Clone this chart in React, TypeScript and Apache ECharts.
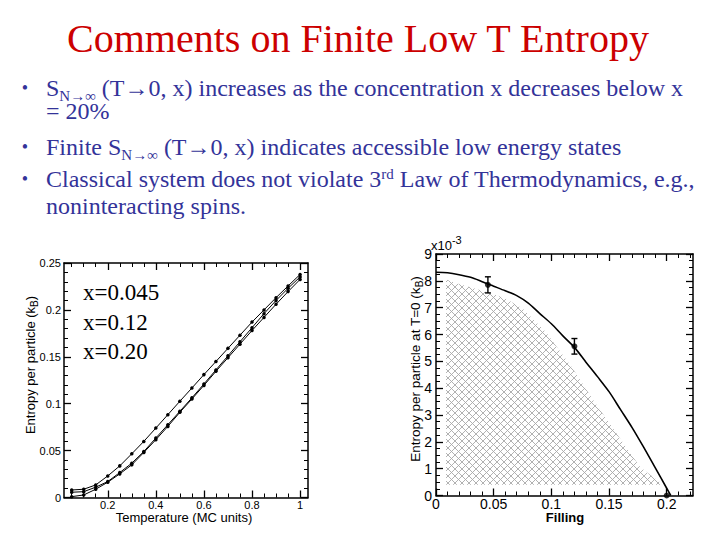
import React, { useEffect, useRef } from 'react';
import * as echarts from 'echarts';

// ---------- Left panel: entropy vs temperature ----------
const TEMPS = [0.05, 0.1, 0.15, 0.2, 0.25, 0.3, 0.35, 0.4, 0.45, 0.5, 0.55, 0.6, 0.65, 0.7, 0.75, 0.8, 0.85, 0.9, 0.95, 1.0];
const S_X045 = [0.0080, 0.0088, 0.0134, 0.0230, 0.0337, 0.0466, 0.0598, 0.0740, 0.0883, 0.1026, 0.1167, 0.1310, 0.1450, 0.1590, 0.1730, 0.1870, 0.2000, 0.2130, 0.2255, 0.2378];
const S_X012 = [0.0056, 0.0062, 0.0110, 0.0170, 0.0266, 0.0366, 0.0490, 0.0634, 0.0776, 0.0919, 0.1062, 0.1210, 0.1360, 0.1510, 0.1660, 0.1810, 0.1960, 0.2100, 0.2230, 0.2352];
const S_X020 = [0.0009, 0.0027, 0.0088, 0.0163, 0.0252, 0.0348, 0.0480, 0.0616, 0.0758, 0.0908, 0.1050, 0.1195, 0.1345, 0.1490, 0.1635, 0.1780, 0.1920, 0.2060, 0.2195, 0.2325];
const LEFT_SERIES_NAMES = ['x=0.045', 'x=0.12', 'x=0.20'];
const LEFT_X_TICKS = [0.2, 0.4, 0.6, 0.8, 1];
const LEFT_Y_TICKS = [0, 0.05, 0.1, 0.15, 0.2, 0.25];

// ---------- Right panel: T=0 entropy vs filling (values in units of 1e-3) ----------
const FIT_X = [0, 0.01, 0.02, 0.03, 0.04, 0.05, 0.06, 0.07, 0.08, 0.09, 0.1, 0.11, 0.12, 0.13, 0.14, 0.15, 0.16, 0.17, 0.18, 0.19, 0.2, 0.2035];
const FIT_S0 = [8.32, 8.30, 8.23, 8.13, 7.97, 7.80, 7.63, 7.45, 7.17, 6.78, 6.40, 5.95, 5.52, 4.97, 4.43, 3.87, 3.20, 2.53, 1.80, 1.04, 0.27, 0];
const POINT_X = [0.045, 0.12, 0.2];
const POINT_S0 = [7.85, 5.56, 0];
const POINT_ERR = [0.3, 0.29, 0];
const HATCH_X = [0.0087, 0.0087, 0.02, 0.035, 0.05, 0.06, 0.075, 0.095, 0.1176, 0.1364, 0.1567, 0.1769, 0.197];
const HATCH_Y = [0.4, 8.05, 7.88, 7.70, 7.50, 7.35, 6.97, 6.10, 4.79, 3.55, 2.30, 1.06, 0.4];
const RIGHT_X_TICKS = [0, 0.05, 0.1, 0.15, 0.2];
const RIGHT_Y_TICKS = [0, 1, 2, 3, 4, 5, 6, 7, 8, 9];

// ---------- Slide text ----------
const TITLE = 'Comments on Finite Low T Entropy';
const BULLET_LINES = [
  { text: '{m|S}{s|N→∞}{m| (T→0, x) increases as the concentration x decreases below x}', bullet: true },
  { text: '{m|= 20%}', bullet: false },
  { text: '{m|Finite S}{s|N→∞}{m| (T→0, x) indicates accessible low energy states}', bullet: true },
  { text: '{m|Classical system does not violate 3}{p|rd}{m| Law of Thermodynamics, e.g.,}', bullet: true },
  { text: '{m|noninteracting spins.}', bullet: false },
];

const SANS = 'Liberation Sans, Arial, sans-serif';
const SERIF = 'Liberation Serif, Times New Roman, serif';
const NAVY = '#333399';

function steps(a: number, b: number, s: number) {
  const out: number[] = [];
  for (let i = 0; a + i * s <= b + 1e-9; i++) out.push(+(a + i * s).toFixed(4));
  return out;
}

function axisGroup(kind: 'x' | 'y', gridIndex: number, min: number, max: number, major: number[], minor: number[], label: any) {
  const pos = kind === 'x' ? ['bottom', 'top'] : ['left', 'right'];
  const base = { type: 'value', gridIndex, min, max, splitLine: { show: false } };
  const out: any[] = [];
  pos.forEach((p, k) => {
    out.push({
      ...base,
      position: p,
      axisLine: { show: true, onZero: false, lineStyle: { color: '#000', width: 1.5 } },
      axisTick: { show: true, inside: true, length: 7, customValues: major, lineStyle: { color: '#000', width: 1.3 } },
      axisLabel: k === 0 ? { ...label, customValues: major } : { show: false },
    });
    out.push({
      ...base,
      position: p,
      axisLine: { show: false, onZero: false },
      axisTick: { show: true, inside: true, length: 4, customValues: minor, lineStyle: { color: '#000', width: 1 } },
      axisLabel: { show: false },
    });
  });
  return out;
}

function makePattern() {
  const svg = "<svg xmlns='http://www.w3.org/2000/svg' width='7' height='7'><path d='M0 0L7 7M7 0L0 7' stroke='#a8a8a8' stroke-width='0.9' fill='none'/></svg>";
  return {
    image: 'data:image/svg+xml;charset=utf-8,' + encodeURIComponent(svg),
    repeat: 'repeat',
    imageWidth: 7,
    imageHeight: 7,
  };
}

function buildOption() {
  const leftLabel = { show: true, color: '#000', fontFamily: SANS, fontSize: 11, margin: 2, lineHeight: 11 };
  const rightLabel = { show: true, color: '#000', fontFamily: SANS, fontSize: 14, margin: 3, lineHeight: 12 };

  const xAxes = [
    ...axisGroup('x', 0, 0.018, 1.033, LEFT_X_TICKS, steps(0.05, 1.0, 0.05), leftLabel),
    ...axisGroup('x', 1, 0, 0.2228, RIGHT_X_TICKS, steps(0, 0.22, 0.01), { ...rightLabel, margin: 2 }),
  ];
  const yAxes = [
    ...axisGroup('y', 0, 0, 0.25, LEFT_Y_TICKS, steps(0, 0.25, 0.01), { ...leftLabel, margin: 3 }),
    ...axisGroup('y', 1, 0, 9, RIGHT_Y_TICKS, steps(0, 9, 0.25), { ...rightLabel, margin: 4 }),
  ];

  const leftData = [S_X045, S_X012, S_X020];
  const leftSeries = leftData.map((arr, si) => ({
    type: 'line',
    name: LEFT_SERIES_NAMES[si],
    xAxisIndex: 0,
    yAxisIndex: 0,
    data: TEMPS.map((t, i) => [t, arr[i]]),
    symbol: 'circle',
    symbolSize: 3.5,
    itemStyle: { color: '#000' },
    lineStyle: { color: '#000', width: 1 },
    z: 3,
  }));

  const pattern = makePattern();
  const hatchPts = HATCH_X.map((x, i) => [x, HATCH_Y[i]]);

  const rightSeries: any[] = [
    {
      type: 'custom',
      xAxisIndex: 4,
      yAxisIndex: 4,
      data: [[0, 0]],
      silent: true,
      z: 1,
      renderItem: (_p: any, api: any) => ({
        type: 'polygon',
        shape: { points: hatchPts.map((p) => api.coord(p)) },
        style: { fill: pattern, stroke: 'none' },
      }),
    },
    {
      type: 'line',
      xAxisIndex: 4,
      yAxisIndex: 4,
      data: FIT_X.map((x, i) => [x, FIT_S0[i]]),
      smooth: 0.3,
      showSymbol: false,
      symbol: 'none',
      lineStyle: { color: '#000', width: 1.6 },
      z: 3,
    },
    {
      type: 'custom',
      xAxisIndex: 4,
      yAxisIndex: 4,
      data: POINT_X.map((x, i) => [x, POINT_S0[i], POINT_ERR[i]]),
      z: 4,
      renderItem: (_p: any, api: any) => {
        const x = api.value(0), y = api.value(1), e = api.value(2);
        if (!e) return { type: 'group', children: [] };
        const top = api.coord([x, y + e]);
        const bot = api.coord([x, y - e]);
        const cap = 3;
        const st = { stroke: '#000', lineWidth: 1.4 };
        return {
          type: 'group',
          children: [
            { type: 'line', shape: { x1: top[0], y1: top[1], x2: bot[0], y2: bot[1] }, style: st },
            { type: 'line', shape: { x1: top[0] - cap, y1: top[1], x2: top[0] + cap, y2: top[1] }, style: st },
            { type: 'line', shape: { x1: bot[0] - cap, y1: bot[1], x2: bot[0] + cap, y2: bot[1] }, style: st },
          ],
        };
      },
    },
    {
      type: 'scatter',
      xAxisIndex: 4,
      yAxisIndex: 4,
      data: POINT_X.map((x, i) => [x, POINT_S0[i]]),
      symbol: 'circle',
      symbolSize: 6,
      itemStyle: { color: '#000' },
      clip: false,
      z: 5,
    },
  ];

  const txt = (x: number, y: number, text: string, extra: any = {}, rotation = 0) => ({
    type: 'text',
    x,
    y,
    rotation,
    silent: true,
    style: {
      text,
      fill: '#000',
      fontFamily: SANS,
      fontSize: 13,
      align: 'center',
      verticalAlign: 'middle',
      textAlign: 'center',
      textVerticalAlign: 'middle',
      ...extra,
    },
  });

  const graphics: any[] = [];
  graphics.push(txt(358, 38, TITLE, { fontFamily: SERIF, fontSize: 40, fill: '#cc0000' }));

  const lineYs = [88, 111, 147, 179, 206];
  BULLET_LINES.forEach((ln, i) => {
    if (ln.bullet) {
      graphics.push(txt(25, lineYs[i], '•', { fontFamily: SERIF, fontSize: 18, fill: NAVY, lineHeight: 18 }));
    }
    graphics.push(
      txt(46, lineYs[i], ln.text, {
        align: 'left',
        textAlign: 'left',
        fill: NAVY,
        fontFamily: SERIF,
        fontSize: 24,
        rich: {
          m: { fontFamily: SERIF, fontSize: 24, fill: NAVY, lineHeight: 31 },
          s: { fontFamily: SERIF, fontSize: 15, fill: NAVY, verticalAlign: 'bottom' },
          p: { fontFamily: SERIF, fontSize: 15, fill: NAVY, verticalAlign: 'top', padding: [3, 0, 0, 0] },
        },
      })
    );
  });

  // labels inside the left panel
  const legYs = [292, 322, 351];
  LEFT_SERIES_NAMES.forEach((n, i) => {
    graphics.push(txt(83, legYs[i], n, { align: 'left', textAlign: 'left', fontFamily: SERIF, fontSize: 23, lineHeight: 24 }));
  });

  // axis titles
  graphics.push(txt(184, 517, 'Temperature (MC units)', { fontSize: 13, lineHeight: 12 }));
  graphics.push(
    txt(30, 365, '{a|Entropy per particle (k}{b|B}{a|)}', {
      rich: {
        a: { fontFamily: SANS, fontSize: 13, fill: '#000', lineHeight: 18 },
        b: { fontFamily: SANS, fontSize: 10, fill: '#000', verticalAlign: 'bottom' },
      },
    }, Math.PI / 2)
  );
  graphics.push(txt(565, 517, 'Filling', { fontSize: 13, fontWeight: 'bold', lineHeight: 12 }));
  graphics.push(
    txt(415, 369, '{a|Entropy per particle at T=0 (k}{b|B}{a|)}', {
      rich: {
        a: { fontFamily: SANS, fontSize: 13.5, fill: '#000', lineHeight: 18 },
        b: { fontFamily: SANS, fontSize: 10, fill: '#000', verticalAlign: 'bottom' },
      },
    }, Math.PI / 2)
  );
  graphics.push(
    txt(431, 245, '{a|x10}{b|-3}', {
      align: 'left',
      textAlign: 'left',
      rich: {
        a: { fontFamily: SANS, fontSize: 13, fill: '#000', lineHeight: 21 },
        b: { fontFamily: SANS, fontSize: 11, fill: '#000', verticalAlign: 'top' },
      },
    })
  );

  return {
    animation: false,
    backgroundColor: '#fff',
    grid: [
      { left: 64, top: 263, width: 244, height: 234.5 },
      { left: 436, top: 254, width: 257, height: 241.5 },
    ],
    xAxis: xAxes,
    yAxis: yAxes,
    series: [...leftSeries, ...rightSeries],
    graphic: { elements: graphics },
  };
}

export default function App() {
  const ref = useRef<HTMLDivElement>(null);
  useEffect(() => {
    document.body.style.margin = '0';
    if (!ref.current) return;
    const chart = echarts.init(ref.current, null, { renderer: 'svg', width: 720, height: 540 });
    chart.setOption(buildOption() as any);
    return () => chart.dispose();
  }, []);
  return <div ref={ref} style={{ position: 'absolute', left: 0, top: 0, width: 720, height: 540, background: '#fff' }} />;
}
